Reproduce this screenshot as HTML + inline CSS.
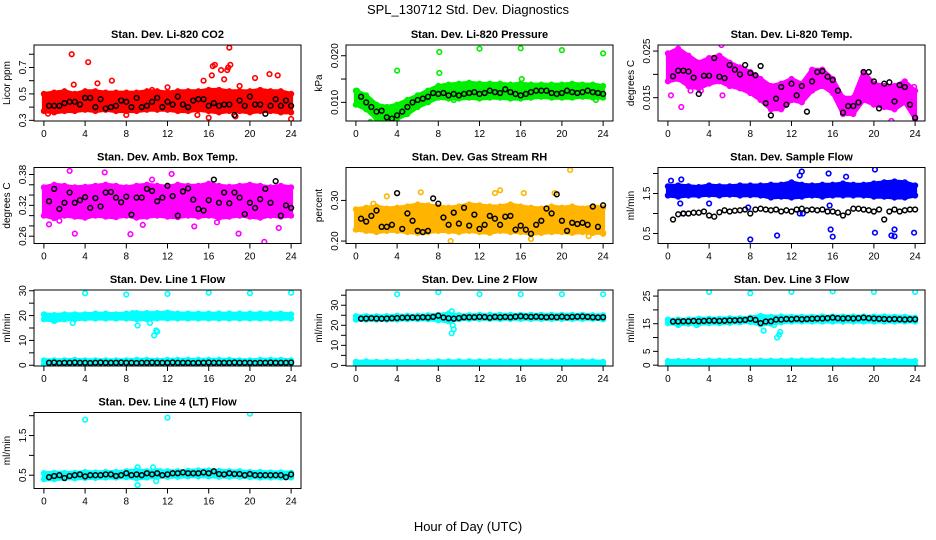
<!DOCTYPE html>
<html><head><meta charset="utf-8"><title>SPL_130712 Std. Dev. Diagnostics</title>
<style>
html,body{margin:0;padding:0;background:#fff;}
svg{display:block;font-family:"Liberation Sans",Arial,sans-serif;}
</style></head>
<body>
<svg id="chart" width="936" height="540" viewBox="0 0 936 540">
<text x="468" y="14" text-anchor="middle" font-size="13">SPL_130712  Std. Dev. Diagnostics</text>
<text x="468" y="531" text-anchor="middle" font-size="13">Hour of Day (UTC)</text>
</svg>
<script>
const bandHours=[0,1,2,3,4,5,6,7,8,9,10,11,12,13,14,15,16,17,18,19,20,21,22,23,24];
const blackHours=[0.5,1,1.5,2,2.5,3,3.5,4,4.5,5,5.5,6,6.5,7,7.5,8,8.5,9,9.5,10,10.5,11,11.5,12,12.5,13,13.5,14,14.5,15,15.5,16,16.5,17,17.5,18,18.5,19,19.5,20,20.5,21,21.5,22,22.5,23,23.5,24];
const xTicks=[0,4,8,12,16,20,24];

// Panel 1: CO2
const co2Lo=[0.37,0.36,0.37,0.37,0.38,0.37,0.38,0.37,0.37,0.37,0.38,0.38,0.38,0.37,0.37,0.38,0.37,0.36,0.37,0.37,0.36,0.37,0.37,0.36,0.36];
const co2Hi=[0.50,0.51,0.52,0.50,0.52,0.52,0.51,0.51,0.51,0.51,0.52,0.52,0.51,0.52,0.52,0.52,0.53,0.53,0.52,0.52,0.52,0.53,0.52,0.52,0.50];
const co2Black=[0.41,0.41,0.41,0.43,0.44,0.44,0.42,0.47,0.47,0.40,0.46,0.39,0.40,0.41,0.45,0.44,0.40,0.47,0.40,0.41,0.44,0.47,0.40,0.44,0.42,0.48,0.42,0.40,0.45,0.46,0.46,0.41,0.43,0.41,0.42,0.42,0.34,0.45,0.41,0.48,0.42,0.42,0.35,0.41,0.46,0.41,0.45,0.41];
const co2OutX=[2.7,4.3,2.9,6.6,5.2,15.5,16.4,16.6,16.3,17.2,17.8,17.9,18.0,18.1,20.5,21.9,22.7,18.6,16.0,24.0,19.0,17.5,10.5,12.0,0.4,8.0,14.9];
const co2OutY=[0.80,0.74,0.57,0.60,0.58,0.60,0.71,0.72,0.64,0.68,0.68,0.70,0.85,0.72,0.62,0.65,0.64,0.33,0.32,0.31,0.56,0.61,0.53,0.55,0.35,0.34,0.34];

// Panel 2: Pressure
const prLo=[0.0095,0.0085,0.0065,0.0060,0.0065,0.0075,0.0090,0.0100,0.0110,0.0108,0.0108,0.0110,0.0108,0.0110,0.0110,0.0108,0.0108,0.0110,0.0112,0.0110,0.0110,0.0110,0.0112,0.0110,0.0110];
const prHi=[0.0125,0.0115,0.0095,0.0090,0.0095,0.0105,0.0115,0.0125,0.0135,0.0138,0.0140,0.0142,0.0140,0.0140,0.0140,0.0138,0.0140,0.0138,0.0138,0.0138,0.0138,0.0140,0.0138,0.0138,0.0135];
const prBlack=[0.0112,0.0100,0.0090,0.0080,0.0082,0.0068,0.0065,0.0072,0.0080,0.0090,0.0100,0.0105,0.0108,0.0112,0.0120,0.0118,0.0120,0.0115,0.0118,0.0115,0.0118,0.0120,0.0122,0.0118,0.0120,0.0125,0.0122,0.0120,0.0128,0.0122,0.0118,0.0115,0.0118,0.0122,0.0125,0.0125,0.0125,0.0120,0.0118,0.0120,0.0125,0.0122,0.0120,0.0122,0.0125,0.0122,0.0120,0.0118];
const prOutX=[0.1,4.0,8.1,8.1,12.0,16.0,16.1,20.0,24.0,1.4,3.5,9.5,23.3];
const prOutY=[0.0125,0.0168,0.0208,0.0163,0.0215,0.0216,0.0150,0.0212,0.0205,0.0058,0.0058,0.0105,0.0105];

// Panel 3: Li-820 temperature
const tLo=[0.0185,0.0190,0.0175,0.0170,0.0180,0.0185,0.0175,0.0170,0.0160,0.0145,0.0125,0.0125,0.0145,0.0140,0.0165,0.0175,0.0160,0.0115,0.0115,0.0145,0.0135,0.0130,0.0125,0.0140,0.0105];
const tHi=[0.0245,0.0255,0.0240,0.0225,0.0235,0.0240,0.0225,0.0215,0.0205,0.0190,0.0175,0.0180,0.0190,0.0180,0.0210,0.0210,0.0190,0.0150,0.0150,0.0205,0.0180,0.0175,0.0175,0.0185,0.0165];
const tBlack=[0.0196,0.0208,0.0208,0.0206,0.0193,0.0158,0.0197,0.0197,0.0235,0.0195,0.0192,0.0220,0.0210,0.0200,0.0220,0.0203,0.0198,0.0218,0.0138,0.0112,0.0148,0.0173,0.0135,0.0180,0.0155,0.0175,0.0120,0.0185,0.0205,0.0207,0.0195,0.0188,0.0165,0.0118,0.0132,0.0132,0.0140,0.0205,0.0205,0.0185,0.0127,0.0180,0.0183,0.0142,0.0177,0.0173,0.0135,0.0107];
const tOutX=[0.3,1.3,5.3,5.2,21.7,23.9,2.2,3.2];
const tOutY=[0.0155,0.0130,0.0155,0.0263,0.0100,0.0173,0.0165,0.0165];

// Panel 4: Amb. box temperature
const abLo=[0.300,0.295,0.300,0.298,0.296,0.300,0.298,0.297,0.300,0.296,0.298,0.300,0.298,0.297,0.300,0.298,0.300,0.296,0.298,0.300,0.298,0.296,0.300,0.298,0.300];
const abHi=[0.355,0.360,0.358,0.355,0.356,0.358,0.360,0.358,0.355,0.358,0.360,0.358,0.356,0.360,0.358,0.358,0.362,0.358,0.356,0.358,0.360,0.358,0.355,0.358,0.355];
const abBlack=[0.328,0.352,0.313,0.325,0.345,0.325,0.330,0.336,0.315,0.334,0.318,0.345,0.346,0.335,0.326,0.337,0.302,0.335,0.335,0.352,0.348,0.328,0.335,0.358,0.338,0.300,0.347,0.353,0.331,0.313,0.310,0.330,0.370,0.325,0.345,0.324,0.345,0.335,0.303,0.325,0.315,0.332,0.352,0.325,0.367,0.300,0.320,0.315];
const abOutX=[2.5,3.0,5.9,8.4,21.4,12.4,10.5,0.5,16.8,18.9,22.8,1.5,9.6,14.6];
const abOutY=[0.387,0.265,0.384,0.264,0.249,0.381,0.370,0.283,0.287,0.265,0.276,0.290,0.282,0.279];

// Panel 5: Gas stream RH
const rhLo=[0.228,0.225,0.222,0.225,0.225,0.222,0.220,0.222,0.225,0.224,0.222,0.225,0.222,0.220,0.225,0.222,0.222,0.218,0.220,0.222,0.222,0.220,0.222,0.220,0.220];
const rhHi=[0.278,0.282,0.285,0.280,0.282,0.285,0.290,0.288,0.285,0.282,0.285,0.290,0.288,0.285,0.285,0.290,0.285,0.282,0.280,0.285,0.282,0.285,0.280,0.285,0.282];
const rhBlack=[0.255,0.248,0.262,0.275,0.235,0.235,0.240,0.318,0.230,0.268,0.250,0.225,0.222,0.225,0.305,0.292,0.258,0.240,0.270,0.243,0.282,0.238,0.265,0.230,0.240,0.262,0.255,0.240,0.260,0.262,0.228,0.238,0.228,0.218,0.240,0.250,0.280,0.268,0.315,0.250,0.225,0.245,0.242,0.245,0.240,0.285,0.235,0.288];
const rhOutX=[20.8,14.0,13.5,3.0,6.3,16.3,19.3,9.2,17.0,24.0,22.6,1.7];
const rhOutY=[0.375,0.325,0.318,0.310,0.320,0.318,0.318,0.200,0.205,0.218,0.212,0.292];

// Panel 6: Sample flow
const sfLo=[1.45,1.42,1.45,1.45,1.47,1.45,1.47,1.45,1.46,1.45,1.40,1.42,1.40,1.42,1.45,1.42,1.45,1.45,1.45,1.45,1.42,1.42,1.40,1.40,1.45];
const sfHi=[1.68,1.70,1.68,1.66,1.70,1.68,1.68,1.70,1.70,1.70,1.72,1.72,1.78,1.72,1.70,1.72,1.72,1.75,1.72,1.72,1.75,1.78,1.80,1.78,1.70];
const sfBlack=[0.85,0.98,1.00,1.00,1.02,1.02,1.05,0.95,0.92,1.03,1.08,1.05,1.07,1.08,1.10,1.00,1.10,1.12,1.10,1.08,1.10,1.05,1.08,1.05,1.10,1.12,1.08,1.10,1.08,1.10,1.05,1.05,1.02,0.95,1.03,1.12,1.12,1.10,1.08,1.05,1.10,0.85,1.05,1.10,1.05,1.08,1.10,1.10];
const sfOutX=[0.3,1.3,13.0,15.6,20.1,12.8,8.0,10.6,15.8,16.0,20.1,21.7,22.0,22.0,23.9,1.2,4.0,12.8,13.1,15.7,7.8,1.5,17.3];
const sfOutY=[1.82,1.85,2.05,2.00,2.10,1.95,0.35,0.45,0.60,0.42,0.52,0.45,0.60,0.43,0.52,1.25,1.25,1.00,1.00,1.20,1.15,1.00,1.92];

// Panel 7: Line 1 flow
const l1Lo=[18.5,17.8,18.5,18.5,18.8,18.8,18.8,18.8,18.8,18.5,18.5,18.8,18.8,18.8,18.8,18.8,18.8,18.8,18.8,18.8,18.8,18.8,18.8,18.8,18.8];
const l1Hi=[20.5,20.2,20.5,20.5,20.5,20.8,20.8,20.5,20.8,21.0,21.0,21.0,21.2,20.8,20.8,20.8,20.8,20.8,20.8,20.8,20.8,20.8,20.8,20.8,20.5];
const l1Lo2=[0.5,0.5,0.5,0.5,0.5,0.5,0.5,0.5,0.5,0.5,0.5,0.5,0.5,0.5,0.5,0.5,0.5,0.5,0.5,0.5,0.5,0.5,0.5,0.5,0.5];
const l1Hi2=[2.0,2.0,2.0,2.2,2.0,2.0,2.0,2.0,2.0,2.2,2.2,2.0,2.2,2.2,2.2,2.2,2.2,2.2,2.2,2.0,2.0,2.2,2.2,2.2,2.0];
const l1Black=[1.0,1.1,0.9,1.0,1.0,1.1,1.0,1.0,0.9,1.0,1.1,1.0,1.0,1.0,1.1,1.0,1.0,0.9,1.0,1.0,1.1,1.0,1.0,1.0,1.1,1.0,1.0,1.0,0.9,1.0,1.0,1.1,1.0,1.0,1.0,1.0,1.1,1.0,1.0,1.0,0.9,1.0,1.0,1.1,1.0,1.0,1.0,1.1];
const l1OutX=[4,8,12,16,20,24,9.1,10.3,10.7,10.9,2.8,8.6,11.0];
const l1OutY=[29,28.5,28.7,29.2,29,29.2,16,17,12,14,17,21,13.5];

// Panel 8: Line 2 flow
const l2Lo=[22.8,22.8,22.8,22.8,22.8,23.0,23.0,23.0,22.5,22.0,23.0,23.2,23.2,23.2,23.2,23.2,23.2,23.2,23.2,23.2,23.2,23.2,23.2,23.2,23.0];
const l2Hi=[24.5,24.5,24.5,24.5,24.8,24.8,24.8,25.0,25.2,25.8,25.0,25.0,25.2,25.2,25.2,25.2,25.2,25.2,25.2,25.2,25.2,25.2,25.2,25.0,25.0];
const l2Lo2=[0.3,0.3,0.3,0.3,0.3,0.3,0.3,0.3,0.3,0.3,0.3,0.3,0.3,0.3,0.3,0.3,0.3,0.3,0.3,0.3,0.3,0.3,0.3,0.3,0.3];
const l2Hi2=[1.8,2.0,1.8,1.8,1.8,1.8,1.8,1.8,2.0,2.0,2.0,2.0,2.0,2.0,2.0,2.0,2.0,2.0,2.0,2.0,2.0,2.0,2.0,2.0,1.8];
const l2Black=[23.3,23.4,23.5,23.4,23.3,23.4,23.5,23.6,23.8,23.8,23.9,23.8,24.0,23.9,24.2,24.8,23.9,23.5,23.3,23.6,24.0,24.0,24.0,24.2,24.1,23.8,24.2,24.0,24.2,24.0,24.3,24.5,24.3,24.2,24.3,24.2,24.0,24.2,24.0,24.3,24.0,24.2,24.3,24.4,24.2,24.0,23.9,24.0];
const l2OutX=[4,8,12,16,20,24,9.3,9.4,9.5,9.3];
const l2OutY=[35.5,36.5,35.5,35.5,35.5,35.5,27,20,18,16];

// Panel 9: Line 3 flow
const l3Lo=[15.2,14.8,15.0,15.0,15.2,15.2,15.3,15.5,15.6,14.8,15.0,15.5,15.8,15.8,15.8,15.8,15.8,15.8,15.8,15.8,15.8,15.8,15.8,15.8,15.8];
const l3Hi=[16.5,16.5,16.5,16.8,16.8,16.8,17.0,17.0,17.2,17.8,17.5,17.6,17.5,17.5,17.5,17.6,17.6,17.6,17.6,17.6,17.6,17.6,17.5,17.5,17.2];
const l3Lo2=[0.2,0.2,0.2,0.2,0.2,0.2,0.2,0.2,0.2,0.2,0.2,0.2,0.2,0.2,0.2,0.2,0.2,0.2,0.2,0.2,0.2,0.2,0.2,0.2,0.2];
const l3Hi2=[1.5,1.5,1.5,1.5,1.6,1.6,1.6,1.6,1.6,1.6,1.6,1.6,1.7,1.7,1.7,1.7,1.7,1.7,1.7,1.7,1.7,1.6,1.6,1.6,1.5];
const l3Black=[15.8,15.8,15.9,15.9,16.0,15.9,16.0,16.1,16.1,16.0,16.1,16.2,16.2,16.3,16.4,16.8,16.4,15.2,15.8,15.9,16.5,16.5,16.7,16.6,16.8,16.6,16.7,16.8,16.9,16.9,17.0,17.2,17.0,16.9,17.0,16.9,17.0,17.2,17.0,16.9,16.8,16.7,16.6,16.7,16.6,16.5,16.6,16.6];
const l3OutX=[4,8,12,16,20,24,9.3,10.6,10.8,10.9,1.0,2.8,10.3];
const l3OutY=[26.5,26,26.5,26.7,26.5,26.5,12.5,10,11,12,14.5,14.5,14.5];

// Panel 10: Line 4 (LT) flow
const l4Lo=[0.40,0.40,0.42,0.42,0.43,0.43,0.44,0.44,0.45,0.42,0.44,0.46,0.46,0.46,0.47,0.47,0.47,0.46,0.46,0.46,0.45,0.44,0.44,0.44,0.44];
const l4Hi=[0.55,0.56,0.56,0.56,0.58,0.57,0.58,0.58,0.60,0.62,0.60,0.60,0.60,0.60,0.61,0.62,0.62,0.61,0.60,0.60,0.58,0.58,0.57,0.57,0.56];
const l4Black=[0.45,0.48,0.50,0.43,0.48,0.50,0.52,0.47,0.50,0.50,0.50,0.52,0.52,0.48,0.50,0.55,0.50,0.52,0.50,0.55,0.52,0.55,0.50,0.52,0.55,0.55,0.57,0.55,0.55,0.55,0.57,0.55,0.60,0.53,0.52,0.55,0.53,0.53,0.50,0.53,0.50,0.50,0.50,0.50,0.50,0.50,0.45,0.52];
const l4OutX=[4,12,20,9.1,9.1,10.6,10.9,11.3];
const l4OutY=[1.9,1.95,2.05,0.70,0.25,0.70,0.35,0.60];

const NS="http://www.w3.org/2000/svg";
const svg=document.getElementById('chart');
function mk(tag,attrs,parent){const e=document.createElementNS(NS,tag);for(const k in attrs)e.setAttribute(k,attrs[k]);(parent||svg).appendChild(e);return e;}

const panels=[
 {title:"Stan. Dev. Li-820 CO2",ylab:"Licor ppm",ymin:0.295,ymax:0.87,ticks:[0.3,0.4,0.5,0.6,0.7,0.8],labels:["0.3","","0.5","","0.7",""],color:"#ff0000",bands:[[co2Lo,co2Hi]],black:co2Black,ox:co2OutX,oy:co2OutY},
 {title:"Stan. Dev. Li-820 Pressure",ylab:"kPa",ymin:0.0060,ymax:0.0223,ticks:[0.010,0.015,0.020],labels:["0.010","","0.020"],color:"#00ee00",bands:[[prLo,prHi]],black:prBlack,ox:prOutX,oy:prOutY},
 {title:"Stan. Dev. Li-820 Temp.",ylab:"degrees C",ymin:0.0100,ymax:0.0263,ticks:[0.015,0.020,0.025],labels:["0.015","","0.025"],color:"#ff00ff",bands:[[tLo,tHi]],black:tBlack,ox:tOutX,oy:tOutY},
 {title:"Stan. Dev. Amb. Box Temp.",ylab:"degrees C",ymin:0.2458,ymax:0.3936,ticks:[0.26,0.28,0.30,0.32,0.34,0.36,0.38],labels:["0.26","","","0.32","","","0.38"],color:"#ff00ff",bands:[[abLo,abHi]],black:abBlack,ox:abOutX,oy:abOutY},
 {title:"Stan. Dev. Gas Stream RH",ylab:"percent",ymin:0.194,ymax:0.381,ticks:[0.20,0.30],labels:["0.20","0.30"],color:"#ffb400",bands:[[rhLo,rhHi]],black:rhBlack,ox:rhOutX,oy:rhOutY},
 {title:"Stan. Dev. Sample Flow",ylab:"ml/min",ymin:0.25,ymax:2.15,ticks:[0.5,1.0,1.5,2.0],labels:["0.5","","1.5",""],color:"#0000ff",bands:[[sfLo,sfHi]],black:sfBlack,ox:sfOutX,oy:sfOutY},
 {title:"Stan. Dev. Line 1 Flow",ylab:"ml/min",ymin:-0.3,ymax:30.3,ticks:[0,5,10,15,20,25,30],labels:["0","","10","","20","","30"],color:"#00ffff",bands:[[l1Lo,l1Hi],[l1Lo2,l1Hi2]],black:l1Black,ox:l1OutX,oy:l1OutY},
 {title:"Stan. Dev. Line 2 Flow",ylab:"ml/min",ymin:-0.3,ymax:37.6,ticks:[0,5,10,15,20,25,30,35],labels:["0","","10","","20","","30",""],color:"#00ffff",bands:[[l2Lo,l2Hi],[l2Lo2,l2Hi2]],black:l2Black,ox:l2OutX,oy:l2OutY},
 {title:"Stan. Dev. Line 3 Flow",ylab:"ml/min",ymin:-0.3,ymax:27.2,ticks:[0,5,10,15,20,25],labels:["0","5","","15","","25"],color:"#00ffff",bands:[[l3Lo,l3Hi],[l3Lo2,l3Hi2]],black:l3Black,ox:l3OutX,oy:l3OutY},
 {title:"Stan. Dev. Line 4 (LT) Flow",ylab:"ml/min",ymin:0.165,ymax:2.08,ticks:[0.5,1.0,1.5,2.0],labels:["0.5","","1.5",""],color:"#00ffff",bands:[[l4Lo,l4Hi]],black:l4Black,ox:l4OutX,oy:l4OutY}
];
const slugs=["co2","pressure","li820-temp","amb-box-temp","gas-stream-rh","sample-flow","line1-flow","line2-flow","line3-flow","line4-flow"];

panels.forEach((p,i)=>{
  const col=i%3,row=Math.floor(i/3);
  const L=34+col*312,T=45+row*122.5,W=267,H=76;
  const xs=h=>L+(h+0.96)/25.92*W;
  const ys=v=>T+H-(v-p.ymin)/(p.ymax-p.ymin)*H;
  const g=mk('g',{});
  
  
  const cp=mk('clipPath',{id:'cp'+i},g);
  mk('rect',{x:L,y:T,width:W,height:H},cp);
  const t=mk('text',{x:L+W/2,y:T-7,'text-anchor':'middle','font-size':'11','font-weight':'bold'},g);
  t.textContent=p.title;
  
  
  const yl=mk('text',{x:0,y:0,transform:`translate(${L-24},${T+H/2}) rotate(-90)`,'text-anchor':'middle','font-size':'10'},g);
  yl.textContent=p.ylab;
  
  
  const dg=mk('g',{'clip-path':`url(#cp${i})`},g);
  
  
  p.bands.forEach(b=>{
    const lo=b[0],hi=b[1];
    let pts=bandHours.map((h,k)=>xs(h).toFixed(1)+','+ys(hi[k]).toFixed(1));
    for(let k=bandHours.length-1;k>=0;k--)pts.push(xs(bandHours[k]).toFixed(1)+','+ys(lo[k]).toFixed(1));
    const poly=mk('polygon',{points:pts.join(' '),fill:p.color,stroke:p.color,'stroke-width':'4','stroke-linejoin':'round'},dg);
    
    
    bandHours.forEach((h,k)=>{
      [lo[k],hi[k]].forEach(v=>{
        const c=mk('circle',{cx:xs(h),cy:ys(v),r:2.3,fill:'none',stroke:p.color,'stroke-width':1.6},dg);
        
        
      });
    });
  });
  p.ox.forEach((x,k)=>{
    const c=mk('circle',{cx:xs(x),cy:ys(p.oy[k]),r:2.3,fill:'none',stroke:p.color,'stroke-width':1.6},dg);
    
    
  });
  blackHours.forEach((h,k)=>{
    const c=mk('circle',{cx:xs(h),cy:ys(p.black[k]),r:2.4,fill:'none',stroke:'#000','stroke-width':1.5},dg);
    
    
  });
  const box=mk('rect',{x:L,y:T,width:W,height:H,fill:'none',stroke:'#000','stroke-width':1},g);
  
  
  mk('line',{x1:xs(0),x2:xs(24),y1:T+H,y2:T+H,stroke:'#000'},g);
  xTicks.forEach(h=>{
    mk('line',{x1:xs(h),x2:xs(h),y1:T+H,y2:T+H+5,stroke:'#000'},g);
    const tl=mk('text',{x:xs(h),y:T+H+16,'text-anchor':'middle','font-size':'10'},g);
    tl.textContent=h;
    
    
  });
  p.ticks.forEach((v,k)=>{
    const y=ys(v);
    mk('line',{x1:L-5,x2:L,y1:y,y2:y,stroke:'#000'},g);
    if(p.labels[k]){
      const tl=mk('text',{x:0,y:0,transform:`translate(${L-8},${y}) rotate(-90)`,'text-anchor':'middle','font-size':'10'},g);
      tl.textContent=p.labels[k];
      
      
    }
  });
});
</script>
</body></html>
